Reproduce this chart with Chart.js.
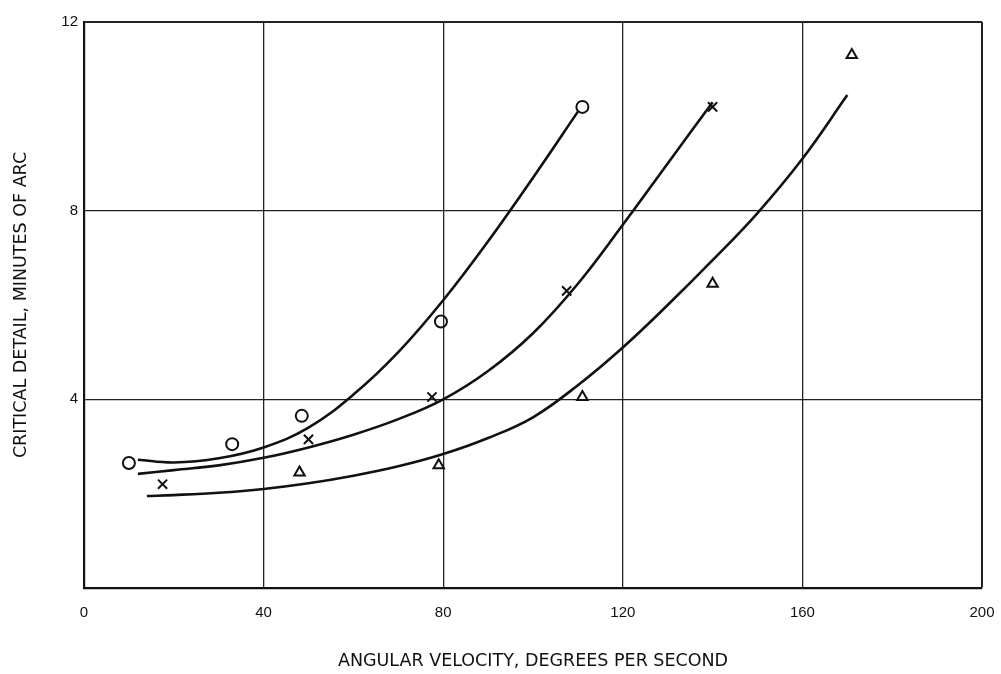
<!DOCTYPE html>
<html>
<head>
<meta charset="utf-8">
<script src="https://cdn.jsdelivr.net/npm/chart.js@4/dist/chart.umd.min.js"></script>
<style>
  html,body{margin:0;padding:0;background:#fff;}
  #wrap{width:1001px;height:674px;}
</style>
</head>
<body>
<div id="wrap"><canvas id="c" width="1001" height="674"></canvas></div>
<script>
// Measured points (angular velocity deg/s, critical detail minutes of arc)
const circleX = [10, 33, 48.5, 79.5, 111];
const circleY = [2.65, 3.05, 3.65, 5.65, 10.2];
const crossX = [17.5, 50, 77.5, 107.5, 140];
const crossY = [2.2, 3.15, 4.05, 6.3, 10.2];
const triX = [48, 79, 111, 140, 171];
const triY = [2.45, 2.6, 4.05, 6.45, 11.3];

// Fitted curves
const curveCircleX = [12, 20, 30, 40, 50, 60, 70, 80, 90, 100, 110];
const curveCircleY = [2.72, 2.66, 2.75, 2.98, 3.4, 4.1, 5.0, 6.1, 7.35, 8.7, 10.1];
const curveCrossX = [12, 20, 30, 40, 50, 60, 70, 80, 90, 100, 110, 120, 130, 140];
const curveCrossY = [2.42, 2.5, 2.6, 2.76, 2.98, 3.25, 3.58, 4.0, 4.6, 5.4, 6.45, 7.7, 9.0, 10.3];
const curveTriX = [14, 20, 30, 40, 50, 60, 70, 80, 90, 100, 110, 120, 130, 140, 150, 160, 170];
const curveTriY = [1.95, 1.97, 2.02, 2.1, 2.22, 2.38, 2.58, 2.84, 3.18, 3.62, 4.3, 5.1, 6.0, 6.95, 7.95, 9.1, 10.45];

const xTicks = [0, 40, 80, 120, 160, 200];
const yTicks = [0, 4, 8, 12];
const xTitle = 'ANGULAR VELOCITY, DEGREES PER SECOND';
const yTitle = 'CRITICAL DETAIL, MINUTES OF ARC';

const pts = (xs, ys) => xs.map((x, i) => ({x, y: ys[i]}));
const FONT = "'Liberation Sans', 'DejaVu Sans', sans-serif";
const TFONT = "'DejaVu Sans', 'Liberation Sans', sans-serif";

const curve = (xs, ys) => ({
  type: 'scatter', data: pts(xs, ys), showLine: true, borderColor: '#111',
  borderWidth: 2.6, pointRadius: 0, tension: 0.4, fill: false
});
const marks = (xs, ys, style, r) => ({
  type: 'scatter', data: pts(xs, ys), showLine: false, pointStyle: style,
  pointRadius: r, pointBorderColor: '#111', pointBackgroundColor: 'rgba(0,0,0,0)',
  pointBorderWidth: 2, borderColor: '#111'
});

new Chart(document.getElementById('c'), {
  data: {
    datasets: [
      curve(curveCircleX, curveCircleY),
      curve(curveCrossX, curveCrossY),
      curve(curveTriX, curveTriY),
      marks(circleX, circleY, 'circle', 6),
      marks(crossX, crossY, 'crossRot', 6.5),
      marks(triX, triY, 'triangle', 6)
    ]
  },
  options: {
    responsive: false, animation: false, devicePixelRatio: 1,
    layout: {padding: {top: 22, right: 19, left: 0, bottom: 0}},
    plugins: {legend: {display: false}, tooltip: {enabled: false}},
    scales: {
      x: {
        type: 'linear', min: 0, max: 200,
        afterBuildTicks: s => { s.ticks = xTicks.map(v => ({value: v})); },
        afterFit: s => { s.height = 86; s.paddingRight = 0; s.paddingLeft = 0; },
        ticks: {color: '#111', font: {family: FONT, size: 15}, padding: 16, maxRotation: 0},
        grid: {color: '#222', lineWidth: c => (c.tick && c.tick.value === 200 ? 2 : 1.3), drawTicks: false},
        border: {color: '#111', width: 2.2},
        title: {display: true, text: xTitle, color: '#111', font: {family: TFONT, size: 17.5}, padding: {top: 0, bottom: 2}}
      },
      y: {
        type: 'linear', min: 0, max: 12,
        afterBuildTicks: s => { s.ticks = yTicks.map(v => ({value: v})); },
        afterFit: s => { s.width = 84; },
        ticks: {color: '#111', font: {family: FONT, size: 15},
                padding: 6, callback: v => (v === 0 ? '' : String(v))},
        grid: {color: '#222', lineWidth: c => (c.tick && c.tick.value === 12 ? 2 : 1.3), drawTicks: false},
        border: {color: '#111', width: 2.2},
        title: {display: true, text: yTitle, color: '#111', font: {family: TFONT, size: 17.5}, padding: {top: 11, bottom: 0}}
      }
    }
  }
});
</script>
</body>
</html>
